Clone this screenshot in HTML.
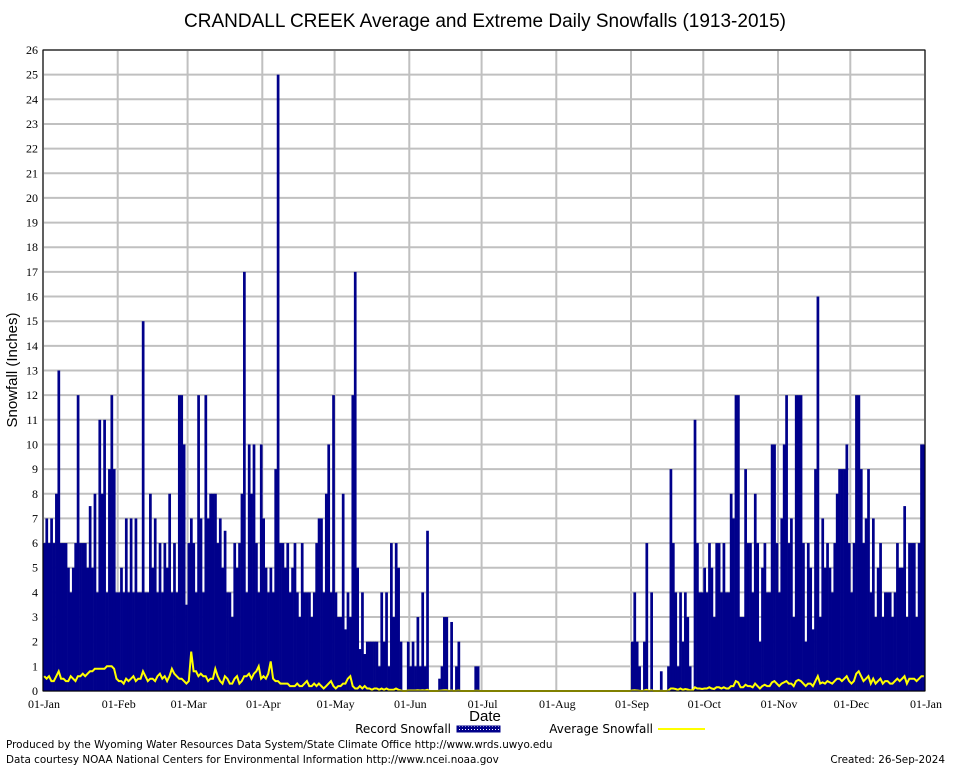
<!DOCTYPE html>
<html><head><meta charset="utf-8"><style>
body{margin:0;background:#fff;width:954px;height:768px;overflow:hidden}
svg{display:block}
</style></head><body>
<svg id="chart" width="954" height="768" xmlns="http://www.w3.org/2000/svg">
<defs><pattern id="hatch" width="3" height="3" patternUnits="userSpaceOnUse"><rect width="3" height="3" fill="#00008b"/><rect width="1" height="1" fill="#fff"/></pattern></defs>
<rect width="954" height="768" fill="#fff"/>
<text x="485" y="27" text-anchor="middle" font-family="Liberation Sans, sans-serif" font-size="19">CRANDALL CREEK Average and Extreme Daily Snowfalls (1913-2015)</text>
<g id="grid"></g><g id="bars"></g><g id="avg"></g><g id="axes"></g>
<text transform="translate(17,370) rotate(-90)" text-anchor="middle" font-family="Liberation Sans, sans-serif" font-size="15">Snowfall (Inches)</text>
<text x="485" y="721" text-anchor="middle" font-family="Liberation Sans, sans-serif" font-size="15">Date</text>
<g font-family="DejaVu Sans, sans-serif" font-size="12">
<text x="451" y="733" text-anchor="end">Record Snowfall</text>
<rect x="457" y="726" width="43" height="6" fill="url(#hatch)" stroke="#00008b"/>
<text x="653" y="733" text-anchor="end">Average Snowfall</text>
<line x1="658" y1="729" x2="705" y2="729" stroke="#ffff00" stroke-width="2"/>
</g>
<g font-family="DejaVu Sans, sans-serif" font-size="10.4">
<text x="6" y="748">Produced by the Wyoming Water Resources Data System/State Climate Office http://www.wrds.uwyo.edu</text>
<text x="6" y="763">Data courtesy NOAA National Centers for Environmental Information http://www.ncei.noaa.gov</text>
<text x="945" y="763" text-anchor="end">Created:  26-Sep-2024</text>
</g>
</svg>
<script>
const monthLabels=["01-Jan","01-Feb","01-Mar","01-Apr","01-May","01-Jun","01-Jul","01-Aug","01-Sep","01-Oct","01-Nov","01-Dec","01-Jan"];
const monthStartDays=[0,31,60,91,121,152,182,213,244,274,305,335,366];
const yTicks=[0,1,2,3,4,5,6,7,8,9,10,11,12,13,14,15,16,17,18,19,20,21,22,23,24,25,26];
const recordJan=[6,7,6,7,6,8,13,6,6,6,5,4,5,6,12,6,6,6,5,7.5,5,8,4,11,8,11,4,9,12,9,4];
const recordFeb=[4,5,4,7,4,7,4,7,4,4,15,4,4,8,5,7,4,6,4,6,5,8,4,6,4,12,12,10,3.5];
const recordMar=[6,7,6,4,12,7,4,12,7,8,8,8,6,7,5,6.5,4,4,3,6,5,6,8,17,4,10,8,10,6,4,10];
const recordApr=[7,5,4,5,4,9,25,6,6,5,6,4,5,6,4,3,6,4,4,4,3,4,6,7,7,4,8,10,4,12];
const recordMay=[4,3,3,8,2.5,4,3,12,17,5,1.7,4,1.5,2,2,2,2,2,1,4,2,4,1,6,3,6,5,2,0,0,2];
const recordJun=[1,2,1,3,1,4,1,6.5,0,0,0,0,0.5,1,3,3,0,2.8,0,1,2,0,0,0,0,0,0,1,1,0];
const recordJul=[0,0,0,0,0,0,0,0,0,0,0,0,0,0,0,0,0,0,0,0,0,0,0,0,0,0,0,0,0,0,0];
const recordAug=[0,0,0,0,0,0,0,0,0,0,0,0,0,0,0,0,0,0,0,0,0,0,0,0,0,0,0,0,0,0,0];
const recordSep=[2,4,2,1,0,2,6,0,4,0,0,0,0.8,0,0,1,9,6,4,1,4,2,4,3,1,0,11,6,4,4];
const recordOct=[5,4,6,5,3,6,6,4,6,4,4,8,7,12,12,3,3,9,6,6,4,8,6,2,5,6,4,4,10,10,6];
const recordNov=[4,7,10,12,6,7,3,12,12,12,6,2,6,5,2.5,9,16,3,7,5,6,5,4,6,8,9,9,9,10,6];
const recordDec=[4,6,12,12,9,6,7,9,4,7,3,5,6,3,4,4,4,3,4,6,5,5,7.5,3,6,6,6,3,6,10,10];
const avgJan=[0.6,0.5,0.6,0.4,0.4,0.6,0.8,0.5,0.5,0.4,0.4,0.6,0.5,0.4,0.6,0.6,0.7,0.6,0.7,0.8,0.8,0.9,0.9,0.9,0.9,0.9,1.0,1.0,1.0,0.9,0.5];
const avgFeb=[0.4,0.4,0.3,0.5,0.4,0.5,0.6,0.4,0.5,0.5,0.8,0.6,0.4,0.5,0.5,0.4,0.6,0.7,0.5,0.6,0.4,0.6,0.9,0.7,0.6,0.5,0.5,0.4,0.3];
const avgMar=[0.4,1.6,0.8,0.8,0.6,0.7,0.6,0.6,0.4,0.5,0.5,0.9,0.6,0.4,0.3,0.6,0.5,0.3,0.3,0.5,0.6,0.3,0.4,0.6,0.6,0.7,0.5,0.7,0.8,1.0,0.5];
const avgApr=[0.6,0.5,0.7,1.2,0.5,0.4,0.4,0.3,0.3,0.3,0.3,0.2,0.2,0.2,0.3,0.2,0.2,0.3,0.4,0.2,0.2,0.3,0.2,0.3,0.2,0.1,0.2,0.3,0.4,0.2];
const avgMay=[0.1,0.2,0.2,0.3,0.3,0.5,0.6,0.2,0.1,0.1,0.2,0.1,0.2,0.1,0.1,0.05,0.1,0.1,0.05,0.1,0.05,0.1,0.05,0.05,0.05,0.1,0.05,0.02,0,0,0.02];
const avgJun=[0.02,0.02,0.02,0.03,0.02,0.03,0.02,0.05,0,0,0,0,0.01,0.02,0.03,0.03,0,0.02,0,0.01,0.02,0,0,0,0,0,0,0.01,0.01,0];
const avgJul=[0,0,0,0,0,0,0,0,0,0,0,0,0,0,0,0,0,0,0,0,0,0,0,0,0,0,0,0,0,0,0];
const avgAug=[0,0,0,0,0,0,0,0,0,0,0,0,0,0,0,0,0,0,0,0,0,0,0,0,0,0,0,0,0,0,0];
const avgSep=[0.02,0.03,0.02,0.01,0,0.02,0.05,0,0.03,0,0,0,0.01,0,0,0.02,0.1,0.1,0.08,0.05,0.1,0.05,0.08,0.06,0.03,0.02,0.15,0.1,0.1,0.08];
const avgOct=[0.1,0.1,0.15,0.1,0.08,0.15,0.15,0.1,0.15,0.1,0.1,0.2,0.2,0.4,0.35,0.15,0.15,0.25,0.2,0.2,0.15,0.3,0.2,0.1,0.2,0.25,0.2,0.2,0.35,0.4,0.3];
const avgNov=[0.2,0.3,0.35,0.4,0.3,0.3,0.2,0.4,0.45,0.4,0.3,0.2,0.3,0.3,0.2,0.4,0.6,0.3,0.35,0.3,0.4,0.35,0.3,0.4,0.5,0.5,0.4,0.5,0.6,0.4];
const avgDec=[0.3,0.4,0.7,0.8,0.6,0.4,0.5,0.6,0.3,0.5,0.3,0.4,0.5,0.3,0.4,0.4,0.3,0.3,0.4,0.5,0.4,0.5,0.6,0.3,0.5,0.5,0.5,0.4,0.5,0.6,0.6];

const record=[].concat(recordJan,recordFeb,recordMar,recordApr,recordMay,recordJun,recordJul,recordAug,recordSep,recordOct,recordNov,recordDec);
const avg=[].concat(avgJan,avgFeb,avgMar,avgApr,avgMay,avgJun,avgJul,avgAug,avgSep,avgOct,avgNov,avgDec);
const L=43,R=925,T=50,B=691,NDAYS=366,YMAX=26;
const xs=d=>L+(R-L)*d/NDAYS;
const ys=v=>B-(B-T)*v/YMAX;
const NS="http://www.w3.org/2000/svg";
function mk(tag,attrs,parent){const e=document.createElementNS(NS,tag);for(const k in attrs)e.setAttribute(k,attrs[k]);parent.appendChild(e);return e;}
const grid=document.getElementById('grid'),bars=document.getElementById('bars'),avgG=document.getElementById('avg'),axes=document.getElementById('axes');
yTicks.forEach(v=>{
  const ln=mk('line',{x1:L,x2:R,y1:ys(v),y2:ys(v),stroke:'#c0c0c0','stroke-width':2},grid);
  
  
  const t=mk('text',{x:38,y:ys(v)+4,'text-anchor':'end','font-family':'Liberation Serif, serif','font-size':12},axes);
  t.textContent=v;
  
  
});
monthStartDays.forEach((d,i)=>{
  const ln=mk('line',{x1:xs(d),x2:xs(d),y1:T,y2:B,stroke:'#c0c0c0','stroke-width':2},grid);
  
  
  const t=mk('text',{x:xs(d)+1,y:708,'text-anchor':'middle','font-family':'Liberation Serif, serif','font-size':12},axes);
  t.textContent=monthLabels[i];
  
  
});
record.forEach((v,d)=>{
  if(v<=0)return;
  const r=mk('rect',{x:xs(d),y:ys(v),width:xs(d+1)-xs(d)+0.3,height:B-ys(v),fill:'#00008b'},bars);
  
  
});
const pts=avg.map((v,d)=>xs(d+0.5).toFixed(1)+','+ys(v).toFixed(1)).join(' ');
const pl=mk('polyline',{points:pts,fill:'none',stroke:'#ffff00','stroke-width':2},avgG);


const fr=mk('rect',{x:L,y:T,width:R-L,height:B-T,fill:'none',stroke:'#000','stroke-width':1},axes);


</script>
</body></html>
